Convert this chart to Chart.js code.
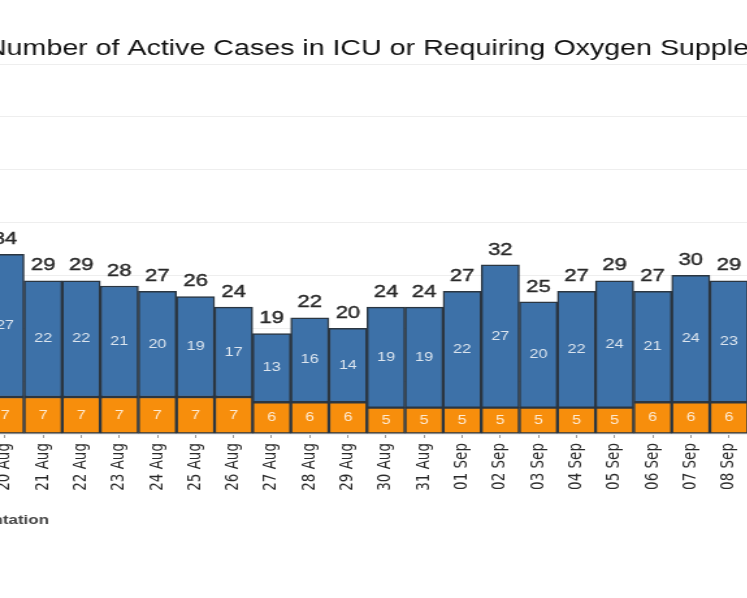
<!DOCTYPE html>
<html>
<head>
  <meta charset="utf-8">
  <title>Active Cases in ICU or Requiring Oxygen Supplementation</title>
  <script src="https://cdn.jsdelivr.net/npm/chart.js"></script>
  <style>
    body {
      margin: 0;
      padding: 0;
      overflow: hidden;
      background: #fff;
    }
    /* the source picture is a horizontally stretched crop, so stretch and shift the canvas */
    #wrap {
      position: absolute;
      left: -364px;
      top: 0;
      transform: scaleX(1.3);
      transform-origin: 0 0;
    }
    canvas {
      display: block;
    }
  </style>
</head>
<body>
  <div id="wrap"><canvas id="myChart" width="862" height="598"></canvas></div>

  <script>
    // data
    const days = ['20 Aug', '21 Aug', '22 Aug', '23 Aug', '24 Aug', '25 Aug', '26 Aug', '27 Aug',
      '28 Aug', '29 Aug', '30 Aug', '31 Aug', '01 Sep', '02 Sep', '03 Sep', '04 Sep', '05 Sep',
      '06 Sep', '07 Sep', '08 Sep'];
    const icu = [7, 7, 7, 7, 7, 7, 7, 6, 6, 6, 5, 5, 5, 5, 5, 5, 5, 6, 6, 6];
    const oxygen = [27, 22, 22, 21, 20, 19, 17, 13, 16, 14, 19, 19, 22, 27, 20, 22, 24, 21, 24, 23];
    const yTicks = [0, 10, 20, 30, 40, 50, 60, 70];

    const titleText = 'Number of Active Cases in ICU or Requiring Oxygen Supplementation';

    // values inside each segment, totals above, and the title (left aligned at the plot)
    const barLabels = {
      id: 'barLabels',
      afterDatasetsDraw(chart) {
        const ctx = chart.ctx;
        ctx.save();
        ctx.textAlign = 'center';
        ctx.textBaseline = 'middle';
        ctx.font = "12.5px 'Liberation Sans'";
        ctx.fillStyle = 'rgba(255,255,255,0.82)';
        chart.data.datasets.forEach((ds, i) => {
          chart.getDatasetMeta(i).data.forEach((bar, j) => {
            ctx.fillText(ds.data[j], bar.x, (bar.y + bar.base) / 2);
          });
        });

        const topBars = chart.getDatasetMeta(chart.data.datasets.length - 1).data;
        ctx.font = "17px 'Liberation Sans'";
        ctx.fillStyle = '#2a2a2a';
        ctx.strokeStyle = '#2a2a2a';
        ctx.lineWidth = 0.4;
        topBars.forEach((bar, j) => {
          const total = icu[j] + oxygen[j];
          ctx.fillText(total, bar.x, bar.y - 15);
          ctx.strokeText(total, bar.x, bar.y - 15);
        });

        ctx.textAlign = 'left';
        ctx.textBaseline = 'alphabetic';
        ctx.font = "22px 'Liberation Sans'";
        ctx.fillStyle = '#111';
        ctx.fillText(titleText, chart.chartArea.left, 55);
        ctx.restore();
      }
    };

    const ctx = document.getElementById('myChart').getContext('2d');
    const chart = new Chart(ctx, {
      type: 'bar',
      data: {
        labels: days,
        datasets: [{
          label: 'In ICU',
          data: icu,
          backgroundColor: '#f78e0c',
          borderColor: '#2b3641',
          borderWidth: 1.5,
          borderSkipped: false
        }, {
          label: 'Requiring Oxygen Supplementation',
          data: oxygen,
          backgroundColor: '#3d71a8',
          borderColor: '#2b3641',
          borderWidth: 1.5,
          borderSkipped: false
        }]
      },
      options: {
        responsive: false,
        animation: false,
        layout: {
          padding: { left: 0, right: 5.1, top: 64, bottom: 61.5 }
        },
        datasets: {
          bar: { barPercentage: 1, categoryPercentage: 1 }
        },
        scales: {
          x: {
            stacked: true,
            grid: {
              drawOnChartArea: false,
              drawTicks: true,
              tickLength: 4,
              offset: false,
              color: '#999'
            },
            border: { display: false },
            ticks: {
              minRotation: 90,
              maxRotation: 90,
              autoSkip: false,
              padding: 5,
              color: '#2a2a2a',
              font: { family: 'DejaVu Sans', size: 13.5 }
            },
            afterFit(axis) { axis.height = 69.5; }
          },
          y: {
            stacked: true,
            min: yTicks[0],
            max: yTicks[yTicks.length - 1],
            ticks: { display: false, stepSize: 10 },
            grid: { color: '#eeeeee', drawTicks: false },
            border: { display: false },
            afterFit(axis) { axis.width = 269.2; }
          }
        },
        plugins: {
          legend: {
            position: 'bottom',
            align: 'start',
            labels: {
              boxWidth: 13,
              boxHeight: 13,
              padding: 10,
              color: '#444',
              font: { family: 'Liberation Sans', size: 13, weight: 'bold' }
            }
          },
          tooltip: { enabled: false }
        }
      },
      plugins: [barLabels]
    });
  </script>
</body>
</html>
